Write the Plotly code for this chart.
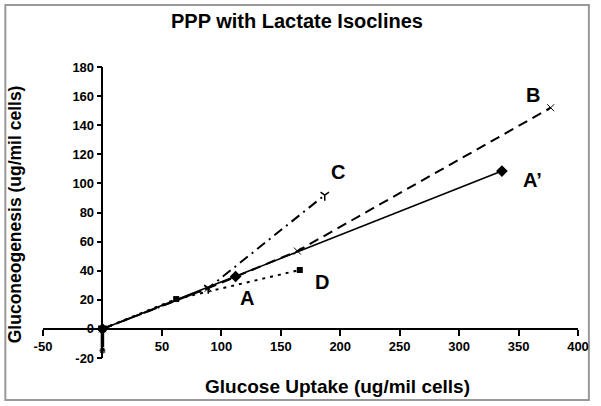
import plotly.graph_objects as go

# Data
a_x = [0, 112, 336]
a_y = [0, 36, 108.5]
b_x = [0, 89, 164, 377]
b_y = [0, 28, 53.5, 152]
c_x = [0, 89, 187]
c_y = [0, 28, 92]
d_x = [0, 62, 166]
d_y = [0, 20.5, 40.5]
z_x = [0, 0]
z_y = [0, -15]

labels = ["A", "A\u2019", "B", "C", "D"]
label_x = [122, 362, 362, 198, 185]
label_y = [21, 102, 161, 108, 32]

x_ticks = [-50, 50, 100, 150, 200, 250, 300, 350, 400]
y_ticks = [-20, 0, 20, 40, 60, 80, 100, 120, 140, 160, 180]

W, H = 601, 406
L, T = 43, 67
PW, PH = 540, 291
R, B = W - L - PW, H - T - PH


def px(x):
    return (x - L) / PW


def py(y):
    return (H - B - y) / PH


fig = go.Figure()
fig.add_trace(go.Scatter(x=z_x, y=z_y, mode="lines+markers",
                         line=dict(color="black", width=3.5),
                         marker=dict(symbol="circle", size=[0, 7], color="black")))
fig.add_trace(go.Scatter(x=a_x, y=a_y, mode="lines+markers",
                         line=dict(color="black", width=1.6),
                         marker=dict(symbol="diamond", size=9, color="black")))
fig.add_trace(go.Scatter(x=b_x, y=b_y, mode="lines+markers",
                         line=dict(color="black", width=2, dash="10px,6px"),
                         marker=dict(symbol="x-thin", size=7,
                                     line=dict(color="black", width=1))))
fig.add_trace(go.Scatter(x=c_x, y=c_y, mode="lines+markers",
                         line=dict(color="black", width=2, dash="10px,5px,2px,5px"),
                         marker=dict(symbol="y-down-open", size=7,
                                     line=dict(color="black", width=1.5))))
fig.add_trace(go.Scatter(x=d_x, y=d_y, mode="lines+markers",
                         line=dict(color="black", width=2, dash="3px,5px"),
                         marker=dict(symbol="square", size=6, color="black")))

tickfont = dict(family="Liberation Sans Narrow, Arial, sans-serif", size=13, color="black")
bold = "Arial, Liberation Sans, sans-serif"

fig.update_layout(
    width=W, height=H,
    margin=dict(l=L, r=R, t=T, b=B),
    paper_bgcolor="white", plot_bgcolor="white",
    showlegend=False,
    hovermode=False,
    font=dict(family=bold, color="black"),
    xaxis=dict(range=[-50, 400], tickvals=x_ticks, ticktext=[f"<b>{v}</b>" for v in x_ticks],
               showgrid=False, zeroline=False, showline=True, linecolor="black", linewidth=1.5,
               ticks="outside", ticklen=6, tickwidth=1.5, tickcolor="black",
               tickfont=tickfont, anchor="free", position=20 / 200),
    yaxis=dict(range=[-20, 180], tickvals=y_ticks, ticktext=[f"<b>{v}</b>" for v in y_ticks],
               showgrid=False, zeroline=False, showline=True, linecolor="black", linewidth=1.5,
               ticks="outside", ticklen=5, tickwidth=1.5, tickcolor="black",
               tickfont=tickfont, anchor="free", position=50 / 450),
)

for t, lx, ly in zip(labels, label_x, label_y):
    fig.add_annotation(x=lx, y=ly, text=f"<b>{t}</b>", showarrow=False,
                       font=dict(size=20, family=bold, color="black"))

fig.add_annotation(xref="paper", yref="paper", x=px(299), y=py(21),
                   text="<b>PPP with Lactate Isoclines</b>", showarrow=False,
                   font=dict(size=20), xanchor="center", yanchor="middle")
fig.add_annotation(xref="paper", yref="paper", x=px(340), y=py(386),
                   text="<b>Glucose Uptake (ug/mil cells)</b>", showarrow=False,
                   font=dict(size=19), xanchor="center", yanchor="middle")
fig.add_annotation(xref="paper", yref="paper", x=px(15), y=py(214),
                   text="<b>Gluconeogenesis (ug/mil cells)</b>", showarrow=False, textangle=-90,
                   font=dict(size=17.5), xanchor="center", yanchor="middle")

fig.add_shape(type="rect", xref="paper", yref="paper",
              x0=px(5), x1=px(594), y0=py(400), y1=py(5),
              line=dict(color="#999999", width=2), fillcolor="rgba(0,0,0,0)", layer="below")

fig.write_html("out.html", config={"displayModeBar": False},
               post_script="document.body.style.margin='0px';")
